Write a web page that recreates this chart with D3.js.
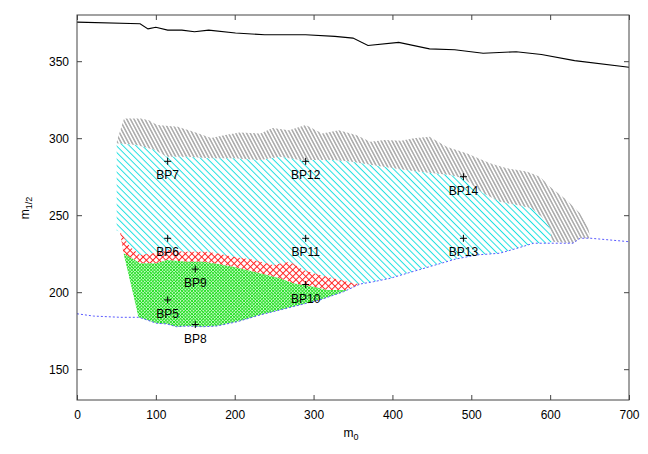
<!DOCTYPE html>
<html>
<head>
<meta charset="utf-8">
<script src="https://cdn.jsdelivr.net/npm/d3@7"></script>
<style>
  html, body { margin: 0; padding: 0; background: #fff; }
  svg { display: block; font-family: "Liberation Sans", Arial, sans-serif; }
</style>
</head>
<body>
<svg id="chart" width="648" height="454"></svg>
<script>
// ---------------- data ----------------
const xTicks = [0, 100, 200, 300, 400, 500, 600, 700];
const yTicks = [150, 200, 250, 300, 350];

// upper black limit line
const topLineX = [0, 80, 90, 100, 115, 133, 149, 167, 201, 238, 290, 327, 350, 369, 408, 447, 479, 515, 557, 589, 631, 700];
const topLineY = [375.4, 374.3, 371, 372, 370.2, 370.2, 369.1, 370.2, 368.3, 367.2, 367.2, 366.1, 365, 360.2, 362.2, 358, 357.4, 355.2, 356.1, 354.3, 350.4, 346.1];

// lower blue dashed limit line
const lowLineX = [0, 21, 55, 78, 82, 101, 114, 126, 139, 160, 177, 203, 232, 274, 308, 338, 359, 376, 397, 420, 450, 480, 507, 536, 558, 579, 600, 629, 638, 650, 700];
const lowLineY = [186, 184.5, 183.7, 183.7, 183.1, 179.8, 179.4, 177.6, 178, 177.6, 178, 180.8, 185.2, 190.6, 195, 200.3, 205.3, 206.8, 209, 212.5, 217, 221.5, 224.2, 225.3, 228.5, 231.8, 231.8, 231.8, 235, 235.1, 232.8];

// gray region upper edge
const grayTopX = [50.8, 59.7, 80.7, 91, 101.6, 127.8, 148.8, 170, 188, 206.4, 232.6, 248, 269, 290, 311, 332, 354, 372, 390, 411, 427, 447, 468.8, 494, 523.7, 544.9, 570.2, 587, 599.8, 620.9, 637.8, 648.4, 649.7];
const grayTopY = [298.7, 312.8, 312.8, 311.7, 308.5, 307.4, 304, 300.2, 302, 303.7, 303, 306.7, 305.2, 308.5, 303, 305.2, 302, 297.7, 298.8, 298.3, 299.9, 301, 294.5, 290.2, 283.7, 280.5, 278.3, 275, 268.5, 259.9, 251.2, 241.5, 238.3];

// cyan region upper edge
const cyanTopX = [50.3, 75.6, 98.9, 113.7, 139, 168.7, 198.2, 232, 257.4, 282.8, 325, 346, 388.5, 430.8, 473, 490, 515, 536.4, 557.6, 576.6, 589.3, 600, 602];
const cyanTopY = [296.7, 295.6, 292.3, 288, 288, 286.9, 286.9, 285.8, 288, 285.8, 285.8, 284.8, 281.5, 278.3, 276.1, 274, 264.2, 258.8, 256.6, 254.5, 249, 241.5, 232.8];

// red region upper edge
const redTopX = [54.5, 59, 67, 80, 97, 118, 135, 148, 164, 177, 198, 224, 249, 270, 287, 308, 334, 350, 359];
const redTopY = [239.3, 236, 229.5, 224.2, 225.3, 227.4, 226.3, 226.3, 226.3, 225.3, 223.1, 221, 217.7, 219.8, 214.4, 211.2, 207.9, 205.8, 205.3];

// green region upper edge
const greenTopX = [59, 80, 101, 114, 139, 160, 173, 198, 232, 257, 274, 300, 317, 342, 359];
const greenTopY = [225.3, 218.8, 218.8, 220.9, 219.8, 219.8, 218.8, 216.6, 212.3, 209, 205.8, 203.6, 201.4, 201.4, 205.3];

// benchmark points
const bpNames = ["BP5", "BP6", "BP7", "BP8", "BP9", "BP10", "BP11", "BP12", "BP13", "BP14"];
const bpM0 =    [115, 115, 115, 150, 150, 290, 290, 290, 490, 490];
const bpM12 =   [195, 235, 285, 179, 215, 205, 235, 285, 235, 275];

// ---------------- layout ----------------
const svg = d3.select("#chart");
const L = 77, R = 629, T = 15, B = 400;
const x = d3.scaleLinear().domain([0, 700]).range([L, R]);
const y = d3.scaleLinear().domain([130, 380]).range([B, T]);

const zip = (xs, ys) => xs.map((v, i) => [v, ys[i]]);
const topLine = zip(topLineX, topLineY);
const lowLine = zip(lowLineX, lowLineY);
const grayTop = zip(grayTopX, grayTopY);
const cyanTop = zip(cyanTopX, cyanTopY);
const redTop = zip(redTopX, redTopY);
const greenTop = zip(greenTopX, greenTopY);
const lowBetween = (a, b) => lowLine.filter(p => p[0] >= a && p[0] <= b);

// band polygons
const grayPoly = grayTop
  .concat(lowBetween(603, 655).reverse())
  .concat(cyanTop.slice().reverse());
const cyanPoly = cyanTop
  .concat(lowBetween(360, 601).reverse())
  .concat(redTop.slice().reverse())
  .concat([[50.3, 240]]);
const redPoly = redTop.concat(greenTop.slice().reverse());
const greenPoly = greenTop
  .concat(lowBetween(70, 358).reverse())
  .concat([[69, 203.6]]);

// ---------------- patterns ----------------
const defs = svg.append("defs");
function hatch(id, color, spacing, angle, cross, width) {
  const p = defs.append("pattern")
    .attr("id", id)
    .attr("patternUnits", "userSpaceOnUse")
    .attr("width", spacing).attr("height", spacing)
    .attr("patternTransform", `rotate(${angle})`);
  p.append("line").attr("x1", spacing / 2).attr("x2", spacing / 2)
    .attr("y1", -1).attr("y2", spacing + 1)
    .attr("stroke", color).attr("stroke-width", width);
  if (cross) {
    p.append("line").attr("y1", spacing / 2).attr("y2", spacing / 2)
      .attr("x1", -1).attr("x2", spacing + 1)
      .attr("stroke", color).attr("stroke-width", width);
  }
}
hatch("pGray", "#6e6e6e", 3.2, -28, false, 0.9);
hatch("pCyan", "#20e0e0", 4.6, -45, false, 1);
hatch("pRed", "#ff2020", 4.6, 45, true, 1);
hatch("pGreen", "#22e022", 2.3, 45, true, 1);

const area = d3.line().x(d => x(d[0])).y(d => y(d[1]));

const regions = [
  [grayPoly, "pGray", "#999"],
  [cyanPoly, "pCyan", "#6ee"],
  [redPoly, "pRed", "#f66"],
  [greenPoly, "pGreen", "#5e5"]
];
svg.append("g").selectAll("path").data(regions).join("path")
  .attr("d", d => area(d[0]) + "Z")
  .attr("fill", d => `url(#${d[1]})`)
  .attr("stroke", "none");

// ---------------- lines ----------------
svg.append("path").datum(lowLine)
  .attr("d", area).attr("fill", "none")
  .attr("stroke", "#5a5aff").attr("stroke-width", 1)
  .attr("stroke-dasharray", "2,2");

svg.append("path").datum(topLine)
  .attr("d", area).attr("fill", "none")
  .attr("stroke", "#000").attr("stroke-width", 1.1);

// ---------------- benchmark points ----------------
const bp = svg.append("g").selectAll("g").data(bpNames).join("g")
  .attr("transform", (d, i) => `translate(${x(bpM0[i])},${y(bpM12[i])})`);
bp.append("path").attr("d", "M-3.5,0H3.5M0,-3.5V3.5")
  .attr("stroke", "#000").attr("stroke-width", 1);
bp.append("text").text(d => d)
  .attr("y", 18).attr("text-anchor", "middle")
  .attr("font-size", 12).attr("fill", "#000");

// ---------------- frame & axes ----------------
const frameColor = "#444";
svg.append("rect").attr("x", L).attr("y", T).attr("width", R - L).attr("height", B - T)
  .attr("fill", "none").attr("stroke", frameColor).attr("stroke-width", 1);

const tk = 5;
const axB = svg.append("g").attr("transform", `translate(0,${B})`)
  .call(d3.axisBottom(x).tickValues(xTicks).tickSize(-tk).tickPadding(10).tickFormat(d3.format("d")));
const axT = svg.append("g").attr("transform", `translate(0,${T})`)
  .call(d3.axisTop(x).tickValues(xTicks).tickSize(-tk).tickFormat(""));
const axL = svg.append("g").attr("transform", `translate(${L},0)`)
  .call(d3.axisLeft(y).tickValues(yTicks).tickSize(-tk).tickPadding(8).tickFormat(d3.format("d")));
const axR = svg.append("g").attr("transform", `translate(${R},0)`)
  .call(d3.axisRight(y).tickValues(yTicks).tickSize(-tk).tickFormat(""));
[axB, axT, axL, axR].forEach(a => {
  a.select(".domain").remove();
  a.selectAll(".tick line").attr("stroke", frameColor);
  a.selectAll("text").attr("font-size", 12).attr("fill", "#000")
    .attr("font-family", "Liberation Sans, Arial, sans-serif");
});

// axis labels
const xl = svg.append("text").attr("x", 351).attr("y", 437)
  .attr("text-anchor", "middle").attr("font-size", 12);
xl.append("tspan").text("m");
xl.append("tspan").text("0").attr("font-size", 9).attr("dy", 3);

const yl = svg.append("text")
  .attr("transform", `translate(29,208) rotate(-90)`)
  .attr("text-anchor", "middle").attr("font-size", 12);
yl.append("tspan").text("m");
yl.append("tspan").text("1/2").attr("font-size", 9).attr("dy", 3);
</script>
</body>
</html>
